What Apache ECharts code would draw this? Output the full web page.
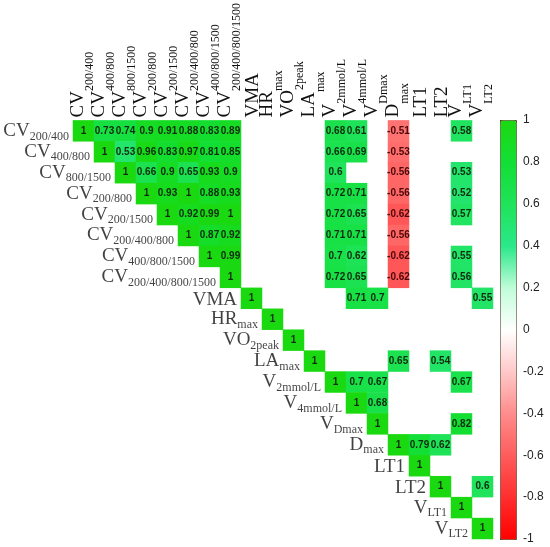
<!DOCTYPE html>
<html><head><meta charset="utf-8">
<script src="https://cdn.jsdelivr.net/npm/echarts@6/dist/echarts.min.js"></script>
<style>html,body{margin:0;padding:0;background:#fff}#c{width:550px;height:547px}</style>
</head><body><div id="c"></div>
<script>
// variable names (main part + subscript)
const varMain = ['CV','CV','CV','CV','CV','CV','CV','CV','VMA','HR','VO','LA','V','V','V','D','LT1','LT2','V','V'];
const varSub  = ['200/400','400/800','800/1500','200/800','200/1500','200/400/800','400/800/1500','200/400/800/1500','','max','2peak','max','2mmol/L','4mmol/L','Dmax','max','','','LT1','LT2'];

// significant correlations per row: [column index, r]
const rowCV200_400   = [[0,1],[1,0.73],[2,0.74],[3,0.9],[4,0.91],[5,0.88],[6,0.83],[7,0.89],[12,0.68],[13,0.61],[15,-0.51],[18,0.58]];
const rowCV400_800   = [[1,1],[2,0.53],[3,0.96],[4,0.83],[5,0.97],[6,0.81],[7,0.85],[12,0.66],[13,0.69],[15,-0.53]];
const rowCV800_1500  = [[2,1],[3,0.66],[4,0.9],[5,0.65],[6,0.93],[7,0.9],[12,0.6],[15,-0.56],[18,0.53]];
const rowCV200_800   = [[3,1],[4,0.93],[5,1],[6,0.88],[7,0.93],[12,0.72],[13,0.71],[15,-0.56],[18,0.52]];
const rowCV200_1500  = [[4,1],[5,0.92],[6,0.99],[7,1],[12,0.72],[13,0.65],[15,-0.62],[18,0.57]];
const rowCV200_400_800 = [[5,1],[6,0.87],[7,0.92],[12,0.71],[13,0.71],[15,-0.56]];
const rowCV400_800_1500 = [[6,1],[7,0.99],[12,0.7],[13,0.62],[15,-0.62],[18,0.55]];
const rowCV200_400_800_1500 = [[7,1],[12,0.72],[13,0.65],[15,-0.62],[18,0.56]];
const rowVMA     = [[8,1],[13,0.71],[14,0.7],[19,0.55]];
const rowHRmax   = [[9,1]];
const rowVO2peak = [[10,1]];
const rowLAmax   = [[11,1],[15,0.65],[17,0.54]];
const rowV2mmol  = [[12,1],[13,0.7],[14,0.67],[18,0.67]];
const rowV4mmol  = [[13,1],[14,0.68]];
const rowVDmax   = [[14,1],[18,0.82]];
const rowDmax    = [[15,1],[16,0.79],[17,0.62]];
const rowLT1     = [[16,1]];
const rowLT2     = [[17,1],[19,0.6]];
const rowVLT1    = [[18,1]];
const rowVLT2    = [[19,1]];

const rows = [rowCV200_400,rowCV400_800,rowCV800_1500,rowCV200_800,rowCV200_1500,rowCV200_400_800,
  rowCV400_800_1500,rowCV200_400_800_1500,rowVMA,rowHRmax,rowVO2peak,rowLAmax,rowV2mmol,rowV4mmol,
  rowVDmax,rowDmax,rowLT1,rowLT2,rowVLT1,rowVLT2];

const names = varMain.map((m,i)=>m+varSub[i]);
const cells = [];
rows.forEach((r,ri)=>r.forEach(([ci,v])=>cells.push([ci,ri,v])));

const serif = 'Liberation Serif';
function richName(i){ return varSub[i] ? '{m|'+varMain[i]+'}{s|'+varSub[i]+'}' : '{n|'+varMain[i]+'}'; }

const chart = echarts.init(document.getElementById('c'));
chart.setOption({
  animation:false,
  backgroundColor:'#fff',
  grid:[
    {left:73,top:120,width:420,height:419},
    {left:500,top:120,width:16,height:419}
  ],
  xAxis:[
    {type:'category',gridIndex:0,data:names,position:'top',
     axisLine:{show:false},axisTick:{show:false},splitLine:{show:false},
     axisLabel:{interval:0,rotate:-90,margin:3,formatter:(v,i)=>richName(i),
       rich:{m:{fontFamily:serif,fontSize:19,color:'#111',padding:[0,0,10,0]},
             s:{fontFamily:serif,fontSize:12,color:'#111',padding:[12,0,0,0]},
             n:{fontFamily:serif,fontSize:19,color:'#111',padding:[4,0,0,0]}}}},
    {type:'value',gridIndex:1,show:false,min:0,max:1}
  ],
  yAxis:[
    {type:'category',gridIndex:0,data:names,inverse:true,show:false},
    {type:'value',gridIndex:1,min:-1,max:1,interval:0.2,position:'right',
     axisLine:{show:false},splitLine:{show:false},
     axisTick:{show:true,length:4,lineStyle:{color:'#333'}},
     axisLabel:{margin:7,fontFamily:'Liberation Sans',fontSize:12,color:'#222',
       formatter:v=>String(Math.round(v*10)/10)}}
  ],
  visualMap:{
    type:'continuous',min:-1,max:1,seriesIndex:0,calculable:false,
    orient:'vertical',left:500,top:120,itemWidth:16,itemHeight:419,padding:0,
    borderColor:'#5a4a30',borderWidth:1,text:null,
    inRange:{color:['#ff0000','#ff2e2e','#ff5c5c','#ff8c8c','#ffc8c8','#ffffff',
                    '#c0fcd8','#2ae88a','#1fe35a','#12df35','#1ad910']}
  },
  series:[
    {type:'heatmap',xAxisIndex:0,yAxisIndex:0,data:cells,
     label:{show:true,fontFamily:'Liberation Sans',fontSize:10,fontWeight:'bold',
       formatter:p=>(p.value[2]<0?'{neg|':'{pos|')+String(p.value[2])+'}',
       rich:{pos:{fontFamily:'Liberation Sans',fontSize:10,fontWeight:'bold',color:'#112a11'},
             neg:{fontFamily:'Liberation Sans',fontSize:10,fontWeight:'bold',color:'#4a0808'}}},
     itemStyle:{borderWidth:0},
     emphasis:{disabled:true}},
    {type:'scatter',xAxisIndex:0,yAxisIndex:0,symbolSize:1,
     itemStyle:{color:'transparent'},
     data:names.map((n,i)=>[i,i]),
     label:{show:true,position:'left',distance:14,formatter:p=>richName(p.dataIndex),
       rich:{m:{fontFamily:serif,fontSize:19,color:'#111'},
             s:{fontFamily:serif,fontSize:12,color:'#111',padding:[11,0,0,0]},
             n:{fontFamily:serif,fontSize:19,color:'#111',padding:[3,0,0,0]}}},
     silent:true},
    {type:'scatter',xAxisIndex:1,yAxisIndex:1,data:[]}
  ]
});
</script></body></html>
